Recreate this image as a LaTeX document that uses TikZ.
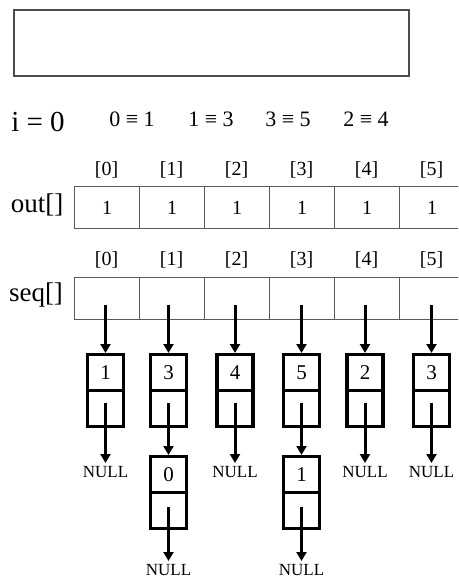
\documentclass[tikz,border=0pt]{standalone}
\usepackage{fontspec}
\setmainfont{Liberation Serif}
\usetikzlibrary{arrows.meta}

\tikzset{
  x=1pt, y=-1pt,
  cellbox/.style={draw=black!65, line width=1.3pt, minimum width=65pt, minimum height=42pt,
                  inner sep=0pt, anchor=north west, font=\fontsize{20}{20}\selectfont},
  idxlabel/.style={font=\fontsize{20}{20}\selectfont, inner sep=0pt},
  arrname/.style={font=\fontsize{27}{27}\selectfont, inner sep=0pt},
  halfbox/.style={draw=black, line width=3.2pt, minimum width=36pt, minimum height=36pt,
                  inner sep=0pt, anchor=north, font=\fontsize{21}{21}\selectfont},
  ptr/.style={line width=3pt, -{Triangle[width=10pt,length=9pt]}},
  nulltext/.style={font=\fontsize{17}{17}\selectfont, inner sep=0pt},
  eqtext/.style={font=\fontsize{22}{22}\selectfont, inner sep=0pt},
}

\begin{document}
\begin{tikzpicture}
\useasboundingbox (0,0) rectangle (458,581);
\clip (0,0) rectangle (458,581);

% empty frame at the top
\draw[black!70, line width=1.3pt] (14,10) rectangle (409,76);

% loop counter and pairs
\node[font=\fontsize{29}{29}\selectfont, inner sep=0pt] (iz) at (38,122) {i = 0};
\node[eqtext] (p1) at (132,119) {0 ≡ 1};
\node[eqtext] (p2) at (211,119) {1 ≡ 3};
\node[eqtext] (p3) at (288,119) {3 ≡ 5};
\node[eqtext] (p4) at (366,119) {2 ≡ 4};

% out[] array
\node[arrname] (outname) at (37,205) {out[]};
\foreach \k in {0,...,5} {
  \node[idxlabel] (oi\k) at (106.5+65*\k,170) {[\k]};
  \node[cellbox] (o\k) at (74+65*\k,186) {1};
}

% seq[] array
\node[arrname] (seqname) at (36,295) {seq[]};
\foreach \k in {0,...,5} {
  \node[idxlabel] (si\k) at (106.5+65*\k,260) {[\k]};
  \node[cellbox] (s\k) at (74+65*\k,277) {};
}

% first-level list nodes: value half on top, link half below
\foreach \k/\cx/\v in {0/105.5/1, 1/168.5/3, 2/235/4, 3/301.5/5, 4/365/2, 5/431.5/3} {
  \node[halfbox] (n\k) at (\cx,353) {\v};
  \node[halfbox] (m\k) at (\cx,389) {};
  \coordinate (st\k) at (\cx,305);
  \coordinate (lk\k) at (\cx,403);
  \draw[ptr] (st\k) -- (n\k.north);
}

% NULL terminators of the single nodes
\foreach \k/\cx in {0/105.5, 2/235, 4/365, 5/431.5} {
  \node[nulltext] (null\k) at (\cx,472) {NULL};
  \coordinate (ne\k) at (\cx,463);
  \draw[ptr] (lk\k) -- (ne\k);
}

% second-level nodes
\foreach \k/\cx/\v in {1/168.5/0, 3/301.5/1} {
  \node[halfbox] (q\k) at (\cx,455) {\v};
  \node[halfbox] (r\k) at (\cx,491) {};
  \draw[ptr] (lk\k) -- (q\k.north);
  \coordinate (lq\k) at (\cx,507);
  \coordinate (nq\k) at (\cx,561);
  \node[nulltext] (nn\k) at (\cx,570) {NULL};
  \draw[ptr] (lq\k) -- (nq\k);
}
\end{tikzpicture}
\end{document}
